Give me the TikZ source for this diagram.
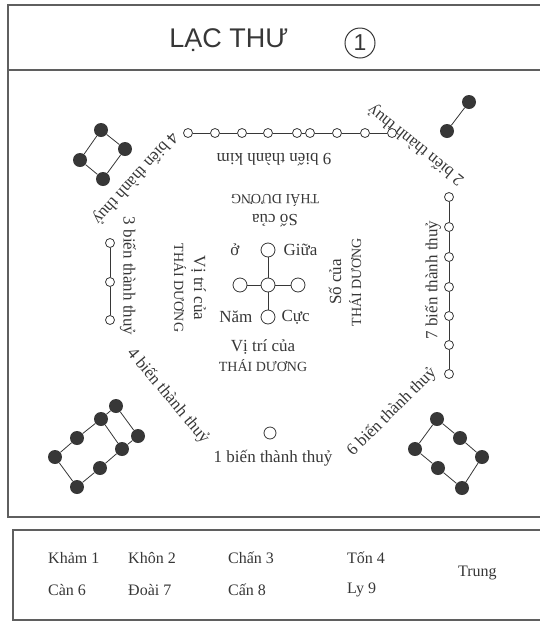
\documentclass[tikz,border=0pt]{standalone}
\usepackage{fontspec}
\setmainfont{Liberation Serif}
\newfontfamily\titlefont{Liberation Sans}
\usetikzlibrary{positioning}
\definecolor{ink}{RGB}{55,55,55}
\definecolor{frame_gray}{RGB}{95,95,95}
\tikzset{
    frame/.style={draw=frame_gray, line width=1.1pt},
    hollow/.style={
        circle, draw=ink, fill=white, line width=0.8pt,
        minimum size=9pt, inner sep=0pt
    },
    dark/.style={
        circle, fill=ink, minimum size=14pt, inner sep=0pt
    },
    link/.style={draw=ink, line width=0.8pt},
    caption/.style={
        font=\fontsize{17}{19}\selectfont, text=ink, inner sep=1pt
    },
    sun/.style={
        font=\fontsize{17}{20}\selectfont, text=ink,
        align=center, inner sep=1pt
    },
    trigram/.style={
        font=\fontsize{16}{18}\selectfont, text=ink,
        anchor=west, inner sep=0pt
    }
}
\newcommand{\capsline}[1]{{\fontsize{14}{17}\selectfont #1}}

\begin{document}
\begin{tikzpicture}[x=1pt, y=-1pt]
    \useasboundingbox (0,0) rectangle (539,622);

    % --- Marcos ---
    \draw[frame] (8,5) rectangle (560,517);
    \draw[frame] (8,70) -- (560,70);
    \draw[frame] (13,530) rectangle (560,620);

    % --- Titulo ---
    \node[font=\titlefont\fontsize{27}{30}\selectfont, text=ink] (title) at (229,40) {LẠC THƯ};
    \node[circle, draw=ink, line width=1pt, minimum size=30pt, inner sep=0pt,
          font=\titlefont\fontsize{23}{25}\selectfont, text=ink] (num) at (360,43) {1};

    % --- 9: fila superior ---
    \foreach \x [count=\i] in {188,215,242,268,297,310,337,365,392} {
        \node[hollow] (t\i) at (\x,133) {};
    }
    \foreach \i [evaluate=\i as \j using int(\i+1)] in {1,...,8} {
        \draw[link] (t\i) -- (t\j);
    }

    % --- 7: columna derecha ---
    \foreach \y [count=\i] in {197,227,257,287,316,345,374} {
        \node[hollow] (r\i) at (449,\y) {};
    }
    \foreach \i [evaluate=\i as \j using int(\i+1)] in {1,...,6} {
        \draw[link] (r\i) -- (r\j);
    }

    % --- 3: columna izquierda ---
    \foreach \y [count=\i] in {243,282,320} {
        \node[hollow] (l\i) at (110,\y) {};
    }
    \draw[link] (l1) -- (l2);
    \draw[link] (l2) -- (l3);

    % --- 5: centro ---
    \node[hollow, minimum size=14pt] (c)  at (268,285) {};
    \node[hollow, minimum size=14pt] (cn) at (268,250) {};
    \node[hollow, minimum size=14pt] (cw) at (240,285) {};
    \node[hollow, minimum size=14pt] (ce) at (298,285) {};
    \node[hollow, minimum size=14pt] (cs) at (268,317) {};
    \foreach \n in {cn,cw,ce,cs} {
        \draw[link] (c) -- (\n);
    }

    % --- 1: abajo ---
    \node[hollow, minimum size=12pt] (b1) at (270,433) {};

    % --- 4: arriba izquierda ---
    \node[dark] (d1) at (101,130) {};
    \node[dark] (d2) at (125,149) {};
    \node[dark] (d3) at (103,179) {};
    \node[dark] (d4) at (80,160) {};
    \draw[link] (d1) -- (d2) -- (d3) -- (d4) -- (d1);

    % --- 2: arriba derecha ---
    \node[dark] (e1) at (469,102) {};
    \node[dark] (e2) at (447,131) {};
    \draw[link] (e1) -- (e2);

    % --- 8: abajo izquierda ---
    \foreach \x/\y [count=\i] in {116/406, 101/419, 77/438, 55/457} {
        \node[dark] (f\i) at (\x,\y) {};
    }
    \foreach \x/\y [count=\i] in {138/436, 122/449, 100/468, 77/487} {
        \node[dark] (g\i) at (\x,\y) {};
    }
    \draw[link] (f1) -- (f2) -- (f3) -- (f4);
    \draw[link] (g1) -- (g2) -- (g3) -- (g4);
    \draw[link] (f1) -- (g1);
    \draw[link] (f2) -- (g2);
    \draw[link] (f4) -- (g4);

    % --- 6: abajo derecha ---
    \foreach \x/\y [count=\i] in {437/419, 460/438, 482/457} {
        \node[dark] (h\i) at (\x,\y) {};
    }
    \foreach \x/\y [count=\i] in {415/449, 438/468, 462/488} {
        \node[dark] (k\i) at (\x,\y) {};
    }
    \draw[link] (h1) -- (h2) -- (h3);
    \draw[link] (k1) -- (k2) -- (k3);
    \draw[link] (h1) -- (k1);
    \draw[link] (h3) -- (k3);

    % --- Rotulos alrededor ---
    \node[caption, rotate=180]  (lab9) at (274,160) {9 biến thành kim};
    \node[caption, rotate=-132] (lab4) at (135,178) {4 biến thành thuỷ};
    \node[caption, rotate=141]  (lab2) at (416,145) {2 biến thành thuỷ};
    \node[caption, rotate=-90]  (lab3) at (128,276) {3 biến thành thuỷ};
    \node[caption, rotate=90]   (lab7) at (433,280) {7 biến thành thuỷ};
    \node[caption, rotate=-50]  (lab8) at (168,396) {4 biến thành thuỷ};
    \node[caption]              (lab1) at (273,458) {1 biến thành thuỷ};
    \node[caption, rotate=45]   (lab6) at (392,412) {6 biến thành thuỷ};

    % --- Thai Duong ---
    \node[sun, rotate=180] (sun_n) at (275,211) {Số của\\\capsline{THÁI DƯƠNG}};
    \node[sun, rotate=-90] (sun_w) at (190,288) {Vị trí của\\\capsline{THÁI DƯƠNG}};
    \node[sun, rotate=90]  (sun_e) at (345,282) {Số của\\\capsline{THÁI DƯƠNG}};
    \node[sun]             (sun_s) at (263,356) {Vị trí của\\\capsline{THÁI DƯƠNG}};

    \node[caption, left=20pt of cn] (o)     {ở};
    \node[caption, right=7pt of cn] (giua)  {Giữa};
    \node[caption, left=7pt of cs]  (nam)   {Năm};
    \node[caption, right=5pt of cs] (cuc)   {Cực};

    % --- Tabla ---
    \node[trigram] (kham) at (48,558)  {Khảm 1};
    \node[trigram] (khon) at (128,558) {Khôn 2};
    \node[trigram] (chan) at (228,558) {Chấn 3};
    \node[trigram] (ton)  at (347,558) {Tốn 4};
    \node[trigram] (can)  at (48,590)  {Càn 6};
    \node[trigram] (doai) at (128,590) {Đoài 7};
    \node[trigram] (cann) at (228,590) {Cấn 8};
    \node[trigram] (ly)   at (347,590) {Ly 9};
    \node[trigram] (trung) at (458,573) {Trung};

\end{tikzpicture}
\end{document}
